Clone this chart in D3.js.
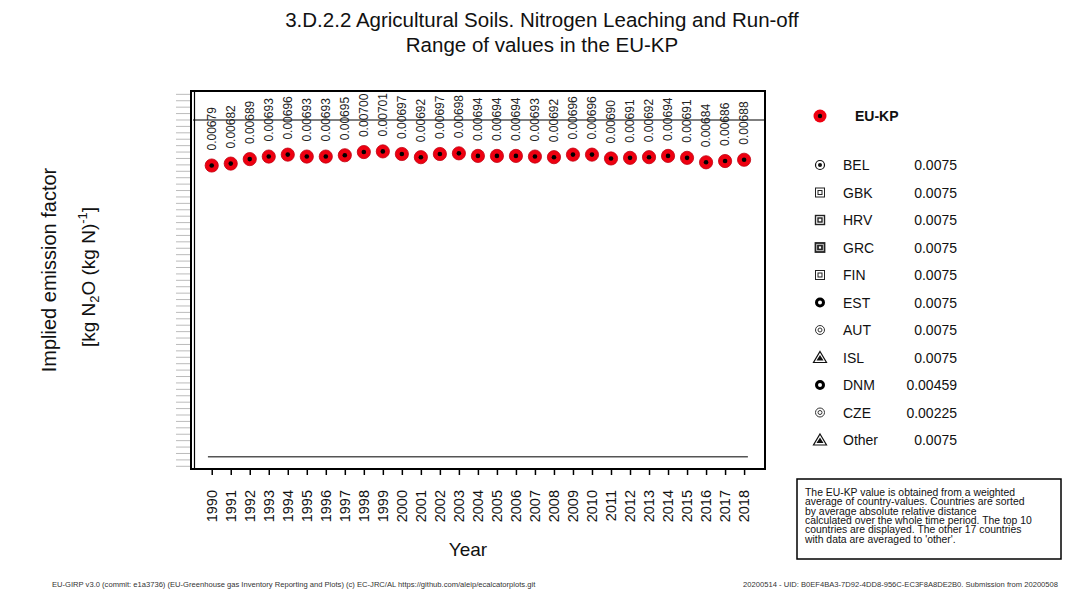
<!DOCTYPE html>
<html><head><meta charset="utf-8">
<script src="https://cdn.jsdelivr.net/npm/d3@7"></script>
<style>
body{margin:0;background:#fff;}
svg{font-family:"Liberation Sans",Arial,sans-serif;}
</style></head>
<body><svg id="c" width="1066" height="590"></svg>
<script>
const years = d3.range(1990, 2019);
const euValues = [0.00679,0.00682,0.00689,0.00693,0.00696,0.00693,0.00693,0.00695,0.00700,0.00701,
  0.00697,0.00692,0.00697,0.00698,0.00694,0.00694,0.00694,0.00693,0.00692,0.00696,
  0.00696,0.00690,0.00691,0.00692,0.00694,0.00691,0.00684,0.00686,0.00688];
const countries = ["BEL","GBK","HRV","GRC","FIN","EST","AUT","ISL","DNM","CZE","Other"];
const countryValues = [0.0075,0.0075,0.0075,0.0075,0.0075,0.0075,0.0075,0.0075,0.00459,0.00225,0.0075];
const countryLabels = ["0.0075","0.0075","0.0075","0.0075","0.0075","0.0075","0.0075","0.0075","0.00459","0.00225","0.0075"];
const countrySymbols = ["circdot","sq1","sq2","sq3","sq1","ring","dcirc","tri","ring","dcirc","tri"];
const titleLines = ["3.D.2.2 Agricultural Soils. Nitrogen Leaching and Run-off","Range of values in the EU-KP"];
const noteLines = ["The EU-KP value is obtained from a weighted","average of country-values. Countries are sorted",
  "by average absolute relative distance","calculated over the whole time period. The top 10",
  "countries are displayed. The other 17 countries","with data are averaged to 'other'."];

const svg = d3.select("#c");
const L=191, R=765, T=91, B=469;
const x = d3.scaleLinear().domain([1988.91, 2019.1]).range([L, R]);
const y = d3.scaleLinear().domain([0.002058, 0.007952]).range([B, T]);

// titles
svg.selectAll("text.title").data(titleLines).join("text")
  .attr("x", 542).attr("y", (d,i)=>27+i*25).attr("text-anchor","middle")
  .attr("font-size",20.5).attr("fill","#111").text(d=>d);

// minor y ticks (no labels)
const yt = d3.range(0.0021, 0.00795, 0.0001);
svg.append("g").selectAll("line").data(yt).join("line")
  .attr("x1",176).attr("x2",190).attr("y1",d=>y(d)).attr("y2",d=>y(d))
  .attr("stroke","#bbb").attr("stroke-width",1);

// constant country lines
const ci = c => countries.indexOf(c);
svg.append("line").attr("x1",L+2).attr("x2",R).attr("y1",y(countryValues[ci("BEL")])).attr("y2",y(countryValues[ci("BEL")]))
  .attr("stroke","#555").attr("stroke-width",1.6);
svg.append("line").attr("x1",x(1989.8)).attr("x2",x(2018.2)).attr("y1",y(countryValues[ci("CZE")])).attr("y2",y(countryValues[ci("CZE")]))
  .attr("stroke","#555").attr("stroke-width",1.6);

// frame
svg.append("rect").attr("x",L).attr("y",T).attr("width",R-L).attr("height",B-T)
  .attr("fill","none").attr("stroke","#000").attr("stroke-width",2);
svg.append("line").attr("x1",L+3.5).attr("x2",L+3.5).attr("y1",T).attr("y2",B).attr("stroke","#000").attr("stroke-width",1.2);

// x axis
const xa = svg.append("g").attr("transform",`translate(0,${B})`)
  .call(d3.axisBottom(x).tickValues(years).tickSize(6).tickFormat(""));
xa.select(".domain").remove();
xa.selectAll("line").attr("stroke","#000").attr("stroke-width",1.5);
svg.append("g").selectAll("text").data(years).join("text")
  .attr("transform",d=>`translate(${x(d)},490) rotate(-90)`).attr("dy","0.35em")
  .attr("text-anchor","end").attr("font-size",14.5).attr("fill","#111").text(d=>d);
svg.append("text").attr("x",468).attr("y",556).attr("text-anchor","middle").attr("font-size",19).attr("fill","#111").text("Year");

// y title
svg.append("text").attr("transform","translate(56,270) rotate(-90)").attr("text-anchor","middle")
  .attr("font-size",20).attr("fill","#111").text("Implied emission factor");
const yt2 = svg.append("text").attr("transform","translate(95,277) rotate(-90)").attr("text-anchor","middle")
  .attr("font-size",19).attr("fill","#111");
yt2.append("tspan").text("[kg N");
yt2.append("tspan").attr("font-size",13).attr("dy",4).text("2");
yt2.append("tspan").attr("dy",-4).text("O (kg N)");
yt2.append("tspan").attr("font-size",13).attr("dy",-8).text("-1");
yt2.append("tspan").attr("dy",8).text("]");

// EU points
const pts = svg.append("g");
pts.selectAll("circle.o").data(euValues).join("circle").attr("class","o")
  .attr("cx",(d,i)=>x(years[i])).attr("cy",d=>y(d)).attr("r",6.6).attr("fill","#ee0010").attr("stroke","#c00010").attr("stroke-width",0.8);
pts.selectAll("circle.i").data(euValues).join("circle").attr("class","i")
  .attr("cx",(d,i)=>x(years[i])).attr("cy",d=>y(d)).attr("r",2.3).attr("fill","#000");
const fmt = d3.format(".5f");
svg.append("g").selectAll("text").data(euValues).join("text")
  .attr("transform",(d,i)=>`translate(${x(years[i])},${y(d)-15}) rotate(-90)`).attr("dy","0.35em")
  .attr("font-size",12).attr("fill","#222").text(d=>fmt(d));

// legend
const lg = svg.append("g");
lg.append("circle").attr("cx",820).attr("cy",116).attr("r",6.5).attr("fill","#ee0010");
lg.append("circle").attr("cx",820).attr("cy",116).attr("r",2.2).attr("fill","#000");
lg.append("text").attr("x",855).attr("y",121).attr("font-size",14).attr("font-weight","bold").attr("fill","#111").text("EU-KP");

function symbol(g, s, cx, cy){
  if(s==="circdot"){
    g.append("circle").attr("cx",cx).attr("cy",cy).attr("r",4.5).attr("fill","none").attr("stroke","#111").attr("stroke-width",1.2);
    g.append("circle").attr("cx",cx).attr("cy",cy).attr("r",2).attr("fill","#111");
  } else if(s.startsWith("sq")){
    const w = s==="sq1"?1:(s==="sq2"?1.4:1.8);
    g.append("rect").attr("x",cx-4.5).attr("y",cy-4.5).attr("width",9).attr("height",9).attr("fill","none").attr("stroke","#222").attr("stroke-width",w);
    g.append("rect").attr("x",cx-2).attr("y",cy-2).attr("width",4).attr("height",4).attr("fill","none").attr("stroke","#222").attr("stroke-width",w);
  } else if(s==="ring"){
    g.append("circle").attr("cx",cx).attr("cy",cy).attr("r",3.5).attr("fill","none").attr("stroke","#000").attr("stroke-width",3);
  } else if(s==="dcirc"){
    g.append("circle").attr("cx",cx).attr("cy",cy).attr("r",4.5).attr("fill","none").attr("stroke","#333").attr("stroke-width",1);
    g.append("circle").attr("cx",cx).attr("cy",cy).attr("r",2).attr("fill","none").attr("stroke","#333").attr("stroke-width",1);
  } else if(s==="tri"){
    g.append("path").attr("d",`M${cx},${cy-6}L${cx+6.5},${cy+5}L${cx-6.5},${cy+5}Z`).attr("fill","none").attr("stroke","#111").attr("stroke-width",1.2);
    g.append("path").attr("d",`M${cx},${cy-2.5}L${cx+3.5},${cy+3}L${cx-3.5},${cy+3}Z`).attr("fill","#111");
  }
}
countries.forEach((c,i)=>{
  const cy = 165 + i*27.5;
  symbol(lg, countrySymbols[i], 820, cy);
  lg.append("text").attr("x",843).attr("y",cy+5).attr("font-size",14).attr("fill","#111").text(c);
  lg.append("text").attr("x",957).attr("y",cy+5).attr("text-anchor","end").attr("font-size",14).attr("fill","#111").text(countryLabels[i]);
});

// note box
svg.append("rect").attr("x",797).attr("y",479).attr("width",264).attr("height",80).attr("fill","#fff").attr("stroke","#000").attr("stroke-width",1.5);
svg.append("g").selectAll("text").data(noteLines).join("text")
  .attr("x",805).attr("y",(d,i)=>496+i*9.3).attr("font-size",10.4).attr("fill","#111").text(d=>d);

// footers
svg.append("text").attr("x",52).attr("y",587).attr("font-size",7.6).attr("fill","#333")
  .text("EU-GIRP v3.0 (commit: e1a3736) (EU-Greenhouse gas Inventory Reporting and Plots) (c) EC-JRC/AL https://github.com/aleip/ecalcatorplots.git");
svg.append("text").attr("x",1058).attr("y",587).attr("text-anchor","end").attr("font-size",7.6).attr("fill","#333")
  .text("20200514 - UID: B0EF4BA3-7D92-4DD8-956C-EC3F8A8DE2B0. Submission from 20200508");
</script></body></html>
